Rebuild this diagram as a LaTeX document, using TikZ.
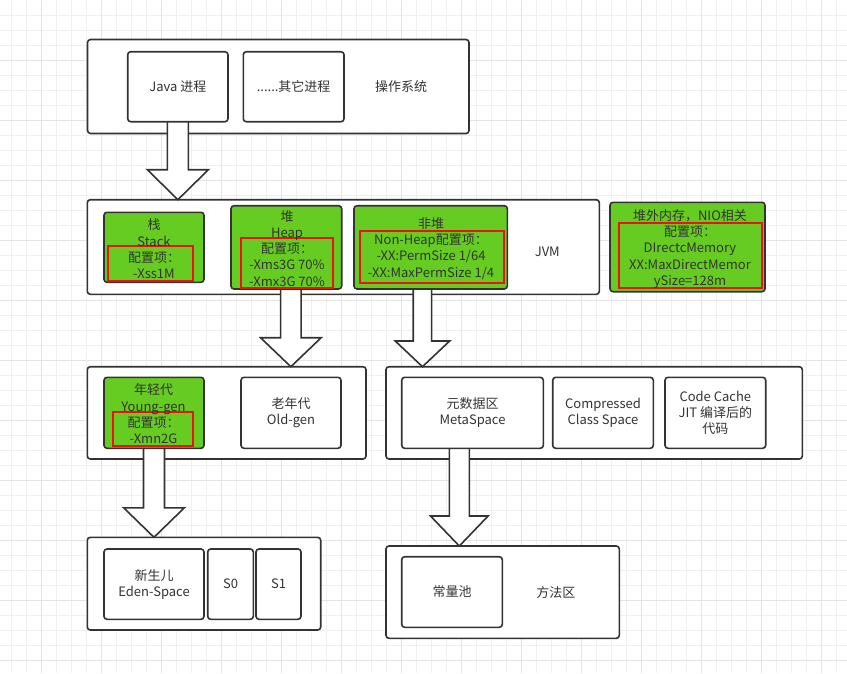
\documentclass[tikz,border=0pt]{standalone}
\usepackage{fontspec}
\setmainfont{Noto Sans CJK SC}
\usetikzlibrary{calc}

\definecolor{ink}{HTML}{333333}
\definecolor{leaf}{HTML}{66CC22}
\definecolor{alert}{HTML}{EE1111}
\definecolor{gridminor}{HTML}{F0F0F0}
\definecolor{gridmajor}{HTML}{E4E4E4}

\pgfdeclarelayer{background}
\pgfdeclarelayer{arrows}
\pgfsetlayers{background,arrows,main}

\tikzset{
  box/.style={draw=ink, line width=1.6pt, rounded corners=3pt, fill=white,
    inner sep=0pt, outer sep=0pt},
  greenbox/.style={box, fill=leaf},
  redbox/.style={draw=alert, line width=1.7pt, inner sep=0pt, outer sep=0pt},
  txt/.style={text=ink, font=\fontsize{13}{16.3}\selectfont, align=center, inner sep=0pt},
  blockarrow/.style={draw=ink, fill=white, line width=1.6pt, line join=miter},
}

% Hollow block arrow: #1 start coordinate, #2 target node (tip on its north side),
% #3 half shaft width, #4 half head width, #5 head length
\newcommand\blockarrow[5]{%
  \filldraw[blockarrow] let \p1=(#1), \p2=(#1 |- #2.north) in
    (\x1-#3pt,\y1) -- (\x1-#3pt,\y2+#5pt) -- (\x1-#4pt,\y2+#5pt) -- (\x2,\y2)
    -- (\x1+#4pt,\y2+#5pt) -- (\x1+#3pt,\y2+#5pt) -- (\x1+#3pt,\y1);}

\begin{document}
\begin{tikzpicture}[x=1pt,y=-1pt]
\useasboundingbox (0,0) rectangle (847,673);

\begin{pgfonlayer}{background}
  \fill[white] (0,0) rectangle (847,673);
  % paper grid
  \foreach \k in {0,...,55} {\draw[gridminor, line width=0.8pt] (11.7+15*\k,0) -- (11.7+15*\k,673);}
  \foreach \k in {1,...,44} {\draw[gridminor, line width=0.8pt] (0,15*\k) -- (847,15*\k);}
  \foreach \k in {0,...,13} {\draw[gridmajor, line width=1pt] (41.7+60*\k,0) -- (41.7+60*\k,673);}
  \foreach \k in {1,...,11} {\draw[gridmajor, line width=1pt] (0,60*\k) -- (847,60*\k);}

  % outer containers
  \node[box, minimum width=381.5pt, minimum height=94pt]   (os)     at (278.25,86.5) {};
  \node[box, minimum width=512pt,   minimum height=94.6pt] (jvm)    at (343.3,247) {};
  \node[box, minimum width=278.7pt, minimum height=92.3pt] (heaprow) at (226.65,412.85) {};
  \node[box, minimum width=416.3pt, minimum height=92.3pt] (metarow) at (594.15,412.85) {};
  \node[box, minimum width=233.4pt, minimum height=92.7pt] (edenrow) at (204,583.65) {};
  \node[box, minimum width=233.3pt, minimum height=92.3pt] (method)  at (502.65,592.15) {};
\end{pgfonlayer}

% operating system
\node[box, minimum width=100.3pt, minimum height=70pt] (java)  at (177.85,86.7) {};
\node[box, minimum width=100.7pt, minimum height=70pt] (other) at (293.65,86.7) {};
\node[txt] at (java)  {Java 进程};
\node[txt] at (other) {......其它进程};
\node[txt] (ostext) at (401,87) {操作系统};

% JVM memory areas
\node[greenbox, minimum width=100pt,   minimum height=70pt]   (stack)   at (154,247.3) {};
\node[greenbox, minimum width=110.7pt, minimum height=83.3pt] (heap)    at (286.35,247.35) {};
\node[greenbox, minimum width=153.3pt, minimum height=83.3pt] (nonheap) at (430.65,247.35) {};
\node[greenbox, minimum width=155pt,   minimum height=89.4pt] (offheap) at (687.5,247) {};
\node[redbox, minimum width=85pt,    minimum height=35pt]   (stackcfg)   at (150.8,263.5) {};
\node[redbox, minimum width=92.6pt,  minimum height=49.4pt] (heapcfg)    at (287,263) {};
\node[redbox, minimum width=144.3pt, minimum height=52.3pt] (nonheapcfg) at (432.15,256.85) {};
\node[redbox, minimum width=143pt,   minimum height=65pt]   (offheapcfg) at (690.8,255.2) {};
\node[txt] at (154,249)   {栈\\Stack\\配置项：\\-Xss1M};
\node[txt] at (287,248.3) {堆\\Heap\\配置项：\\-Xms3G 70\%\\-Xmx3G 70\%};
\node[txt] at (431,248.5) {非堆\\Non-Heap配置项：\\-XX:PermSize 1/64\\-XX:MaxPermSize 1/4};
\node[txt] at (690,249)   {堆外内存，NIO相关\\配置项：\\DIrectcMemory\\XX:MaxDirectMemor\\ySize=128m};
\node[txt] (jvmtext) at (547.3,251.7) {JVM};

% heap generations
\node[greenbox, minimum width=100pt, minimum height=71pt] (young) at (154,412.8) {};
\node[redbox, minimum width=80pt, minimum height=34.3pt] (youngcfg) at (153.3,428.85) {};
\node[box, minimum width=100pt, minimum height=71pt] (old) at (291,412.8) {};
\node[txt] at (153.5,414) {年轻代\\Young-gen\\配置项：\\-Xmn2G};
\node[txt] at (old) {老年代\\Old-gen};

% non-heap areas
\node[box, minimum width=141.6pt, minimum height=71pt] (meta)       at (472.5,412.8) {};
\node[box, minimum width=100.6pt, minimum height=71pt] (compressed) at (603,412.8) {};
\node[box, minimum width=100.7pt, minimum height=71pt] (codecache)  at (715.35,412.8) {};
\node[txt] at (meta) {元数据区\\MetaSpace};
\node[txt] at (compressed) {Compressed\\Class Space};
\node[txt] at (codecache) {Code Cache\\JIT 编译后的\\代码};

% young generation spaces
\node[box, minimum width=100pt,  minimum height=70.3pt] (eden) at (154,584.15) {};
\node[box, minimum width=45.6pt, minimum height=70.3pt] (s0)   at (230.5,584.15) {};
\node[box, minimum width=45pt,   minimum height=70.3pt] (s1)   at (278.5,584.15) {};
\node[txt] at (eden) {新生儿\\Eden-Space};
\node[txt] at (s0) {S0};
\node[txt] at (s1) {S1};

% method area
\node[box, minimum width=100.6pt, minimum height=70.6pt] (constpool) at (452,592) {};
\node[txt] at (constpool) {常量池};
\node[txt] (methodtext) at (555.8,592.3) {方法区};

% arrow start points below their source boxes
\coordinate (heapout)    at ($(heap.south)+(4.5,0)$);
\coordinate (nonheapout) at ($(nonheap.south)+(-8.2,0)$);
\coordinate (metaout)    at ($(meta.south)+(-13.2,0)$);

% block arrows between levels
\begin{pgfonlayer}{arrows}
  \blockarrow{java.south}{jvm}{10.5}{30.5}{30}
  \blockarrow{heapout}{heaprow}{10.2}{30.3}{29}
  \blockarrow{nonheapout}{metarow}{9.2}{27.2}{25.7}
  \blockarrow{young.south}{edenrow}{10.5}{30.3}{29.5}
  \blockarrow{metaout}{method}{10}{28.8}{30}
\end{pgfonlayer}
\end{tikzpicture}
\end{document}
